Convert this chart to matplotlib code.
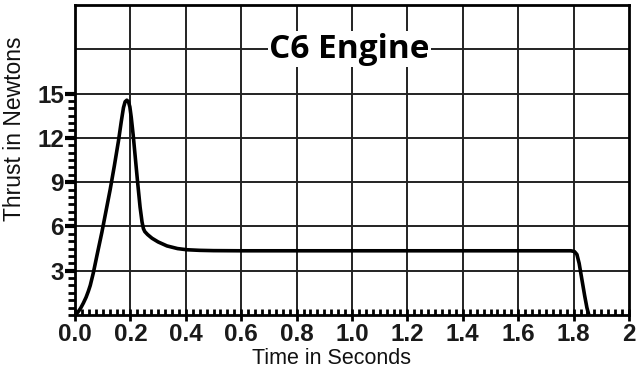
import numpy as np
import matplotlib.pyplot as plt
from matplotlib.ticker import FixedLocator

# thrust curve (seconds, newtons)
time_s = [0.0, 0.01, 0.02, 0.03, 0.04, 0.048, 0.055, 0.066, 0.08, 0.097, 0.112, 0.127,
          0.142, 0.157, 0.167, 0.175, 0.181, 0.187, 0.193, 0.198, 0.203, 0.21,
          0.217, 0.226, 0.235, 0.242, 0.247, 0.252, 0.262, 0.278, 0.30, 0.332,
          0.37, 0.404, 0.45, 0.5, 0.6, 1.0, 1.4, 1.79, 1.803, 1.812, 1.82,
          1.83, 1.84, 1.848, 1.855]
thrust_n = [0.0, 0.18, 0.45, 0.8, 1.2, 1.6, 2.0, 2.84, 4.1, 5.6, 7.05, 8.5,
            10.1, 11.8, 13.1, 14.05, 14.45, 14.55, 14.45, 14.1, 13.4, 12.2,
            10.8, 9.0, 7.3, 6.3, 5.85, 5.65, 5.45, 5.2, 4.95, 4.68,
            4.5, 4.42, 4.38, 4.36, 4.35, 4.35, 4.35, 4.35, 4.3, 4.1, 3.5,
            2.4, 1.3, 0.5, 0.0]

x_ticks = [0.0, 0.2, 0.4, 0.6, 0.8, 1.0, 1.2, 1.4, 1.6, 1.8, 2.0]
x_labels = ['0.0', '0.2', '0.4', '0.6', '0.8', '1.0', '1.2', '1.4', '1.6', '1.8', '2']
y_ticks = [3, 6, 9, 12, 15]
y_grid = [3, 6, 9, 12, 15, 18]

num_font = ['Liberation Sans Narrow', 'Liberation Sans', 'DejaVu Sans']

fig = plt.figure(figsize=(6.4, 3.74), dpi=100)
ax = fig.add_axes([75/640, 59/374, 554/640, 310/374])

ax.plot(time_s, thrust_n, color='black', linewidth=2.6, solid_joinstyle='round',
        solid_capstyle='round', zorder=3)

ax.set_xlim(0, 2)
ax.set_ylim(0, 21)

# grid
for gx in x_ticks[1:-1]:
    ax.axvline(gx, color='#222222', linewidth=1.4, zorder=1)
for gy in y_grid:
    ax.axhline(gy, color='#222222', linewidth=1.4, zorder=1)

for s in ax.spines.values():
    s.set_linewidth(2.0)
    s.set_color('black')

ax.xaxis.set_major_locator(FixedLocator(x_ticks))
ax.set_xticklabels(x_labels)
ax.xaxis.set_minor_locator(FixedLocator(np.arange(0, 2.001, 0.025)))
ax.yaxis.set_major_locator(FixedLocator(y_ticks))
ax.yaxis.set_minor_locator(FixedLocator(np.arange(0, 15.01, 0.5)))

ax.tick_params(axis='x', which='major', direction='inout', length=9, width=2, pad=1)
ax.tick_params(axis='x', which='minor', direction='in', length=4, width=2)
ax.tick_params(axis='y', which='major', direction='out', length=7, width=3, pad=1)
ax.tick_params(axis='y', which='minor', direction='out', length=5, width=2)

for lab in ax.get_xticklabels() + ax.get_yticklabels():
    lab.set_fontfamily(num_font)
    lab.set_fontsize(17.5)
    lab.set_fontweight('bold')
    lab.set_color('#1a1a1a')

ax.text(0.99, 18, 'C6 Engine', ha='center', va='center', fontsize=24,
        fontweight='bold', family=['Open Sans', 'Lato', 'DejaVu Sans'],
        bbox=dict(facecolor='white', edgecolor='none', pad=1), zorder=4)

fig.text(331/640, 1 - 358/374, 'Time in Seconds', ha='center', va='center',
         fontsize=15.5, family=['Liberation Sans', 'DejaVu Sans'], color='#111111')
fig.text(15/640, 1 - 129/374, 'Thrust in Newtons', ha='center', va='center',
         rotation=90, fontsize=16.5, family=['Liberation Sans', 'DejaVu Sans'], color='#111111')

fig.savefig('out.png', dpi=100)
